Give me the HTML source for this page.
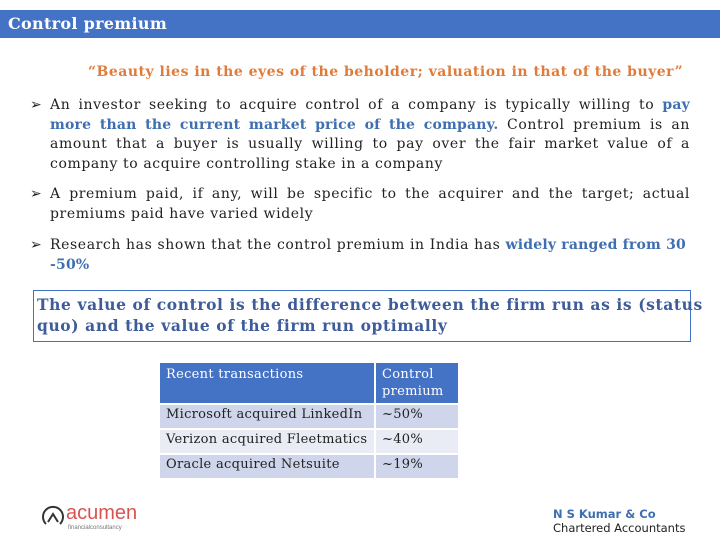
<!DOCTYPE html>
<html><head><meta charset="utf-8"><style>
body{margin:0;width:720px;height:540px;background:#fff;position:relative;overflow:hidden;font-family:"DejaVu Serif","Liberation Serif",serif;}
.abs{position:absolute;}
#hdr{left:0;top:10px;width:720px;height:28px;background:#4472C4;color:#fff;font-weight:bold;font-size:16px;line-height:28px;padding-left:8px;box-sizing:border-box;letter-spacing:0.3px;}
#quote{left:88px;top:64px;color:#E07B39;font-weight:bold;font-size:14px;white-space:nowrap;letter-spacing:0.5px;}
.bul{left:30px;width:660px;font-size:14px;line-height:19.5px;color:#222;letter-spacing:0.6px;}
.bul .arr{position:absolute;left:0;top:0;}
.ln{margin-left:20px;white-space:nowrap;}
.j{text-align:justify;text-align-last:justify;white-space:normal;}
.blue{color:#3E6FB0;font-weight:bold;letter-spacing:0.2px;}
#box{left:33px;top:290px;width:658px;height:52px;border:1px solid #4472C4;box-sizing:border-box;}
#boxt{left:37px;top:294px;color:#3E5C9A;font-weight:bold;font-size:15.5px;line-height:21px;white-space:nowrap;letter-spacing:0.6px;}
table{position:absolute;left:158px;top:361px;border-collapse:collapse;font-size:13px;letter-spacing:0.3px;}
td{border:2px solid #fff;padding:2px 6px;vertical-align:top;color:#222;height:19px;}
th{background:#4472C4;color:#fff;font-weight:normal;text-align:left;vertical-align:top;padding:3px 6px;border:2px solid #fff;line-height:17px;}
</style></head><body>
<div id="hdr" class="abs">Control premium</div>
<div id="quote" class="abs">“Beauty lies in the eyes of the beholder; valuation in that of the buyer”</div>
<div class="abs bul" style="top:96px"><span class="arr">➢</span>
<div class="ln j">An investor seeking to acquire control of a company is typically willing to <span class="blue">pay</span></div>
<div class="ln j"><span class="blue">more than the current market price of the company.</span> Control premium is an</div>
<div class="ln j">amount that a buyer is usually willing to pay over the fair market value of a</div>
<div class="ln">company to acquire controlling stake in a company</div></div>
<div class="abs bul" style="top:185px"><span class="arr">➢</span>
<div class="ln j">A premium paid, if any, will be specific to the acquirer and the target; actual</div>
<div class="ln">premiums paid have varied widely</div></div>
<div class="abs bul" style="top:236px"><span class="arr">➢</span>
<div class="ln">Research has shown that the control premium in India has <span class="blue">widely ranged from 30</span></div>
<div class="ln"><span class="blue">-50%</span></div></div>
<div id="box" class="abs"></div>
<div id="boxt" class="abs">The value of control is the difference between the firm run as is (status<br>quo) and the value of the firm run optimally</div>
<table>
<tr><th style="width:202px;height:31px">Recent transactions</th><th style="width:70px">Control<br>premium</th></tr>
<tr style="background:#CFD5EA"><td>Microsoft acquired LinkedIn</td><td>~50%</td></tr>
<tr style="background:#E9EBF5"><td>Verizon acquired Fleetmatics</td><td>~40%</td></tr>
<tr style="background:#CFD5EA"><td>Oracle acquired Netsuite</td><td>~19%</td></tr>
</table>
<div class="abs" style="left:40px;top:500px;font-family:'Liberation Sans',sans-serif;">
<svg width="26" height="26" style="position:absolute;left:0;top:2px"><path d="M6 22 A10 10 0 1 1 20 22" fill="none" stroke="#333" stroke-width="2"/><path d="M8 20 L13 12 L18 20" fill="none" stroke="#333" stroke-width="2"/></svg>
<span style="position:absolute;left:26px;top:2px;color:#D9534F;font-size:20px;">acumen</span>
<span style="position:absolute;left:28px;top:25px;color:#777;font-size:6px;white-space:nowrap">financialconsultancy</span></div>
<div class="abs" style="left:553px;top:507px;font-family:'DejaVu Sans','Liberation Sans',sans-serif;font-size:11.5px;line-height:14px;"><span style="color:#3E6FB0;font-weight:bold">N S Kumar &amp; Co</span><br><span style="color:#222">Chartered Accountants</span></div>
</body></html>
